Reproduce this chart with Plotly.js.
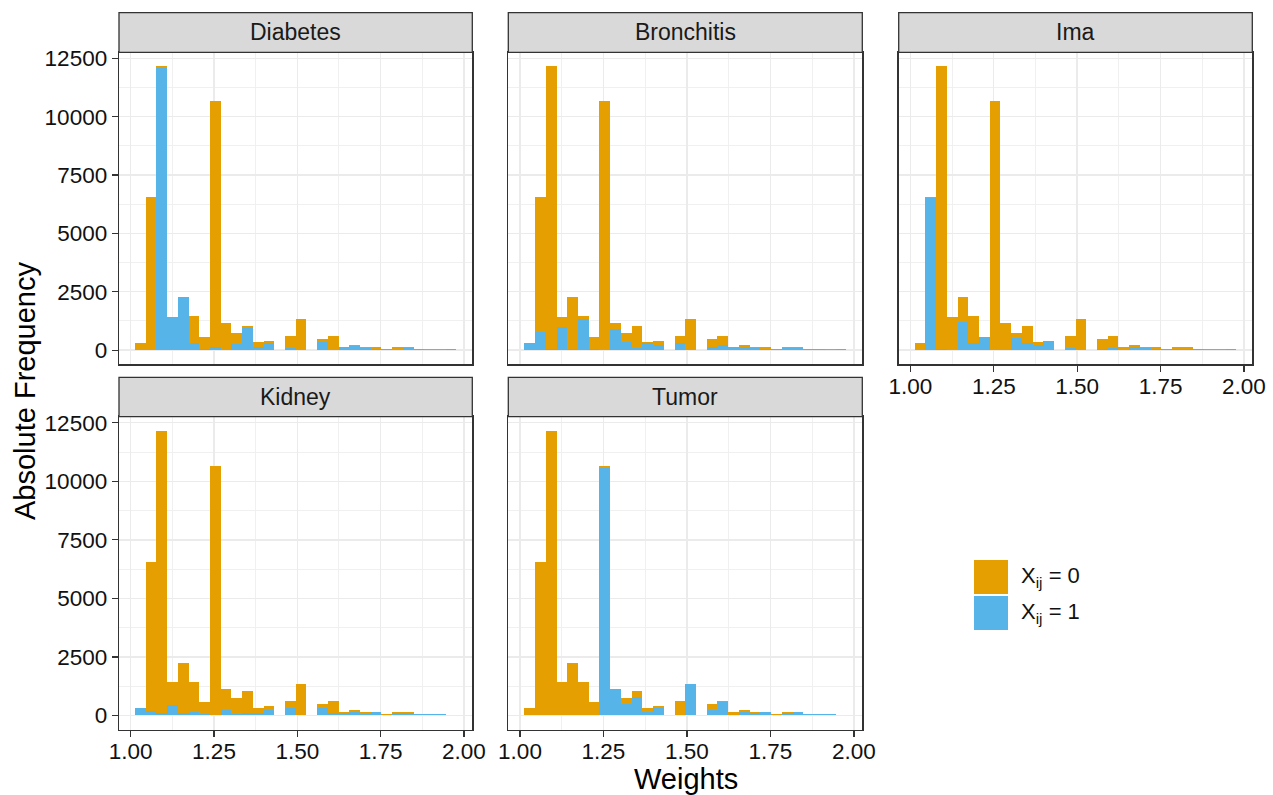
<!DOCTYPE html>
<html><head><meta charset="utf-8">
<script src="https://cdn.plot.ly/plotly-3.0.1.min.js"></script>
<style>html,body{margin:0;padding:0;background:#fff;}#chart{width:1273px;height:795px;}</style>
</head><body><div id="chart"></div>
<script>
// ---- data ----
const binCenters = [1.0290,1.0611,1.0933,1.1254,1.1576,1.1897,1.2218,1.2540,1.2861,1.3183,
                    1.3504,1.3825,1.4147,1.4468,1.4790,1.5111,1.5432,1.5754,1.6075,1.6397,
                    1.6718,1.7039,1.7361,1.7682,1.8004,1.8325,1.8646,1.8968,1.9289,1.9611];
const binWidth = 0.03214;
const totalCounts = [320,6540,12150,1410,2260,1450,555,10650,1150,730,
                     1025,340,385,0,600,1325,0,470,600,130,
                     215,130,130,60,130,130,45,45,45,30];
const diabetesX1   = [0,0,12090,1410,2260,300,60,140,0,255,
                      940,140,310,0,85,0,0,340,0,130,
                      170,85,40,60,0,85,45,0,0,30];
const bronchitisX1 = [300,770,55,1000,55,1325,55,0,900,340,
                      85,310,230,0,310,0,0,140,230,130,
                      140,85,30,60,85,85,45,45,20,30];
const imaX1        = [0,6500,55,0,1200,300,555,0,0,510,
                      300,230,385,0,85,0,0,55,85,0,
                      140,85,55,60,40,55,45,20,0,30];
const kidneyX1     = [320,185,85,430,85,140,55,0,255,55,
                      85,85,230,0,340,0,0,310,85,85,
                      140,55,130,30,85,85,45,45,45,30];
const tumorX1      = [0,0,0,0,0,0,0,10560,1150,510,
                      810,170,310,0,0,1325,0,230,570,0,
                      140,85,130,30,85,130,45,45,45,30];
const panelNames = ['Diabetes','Bronchitis','Ima','Kidney','Tumor'];
const legendLabels = ['X<sub>ij</sub> = 0','X<sub>ij</sub> = 1'];
const xTickVals = [1, 1.25, 1.5, 1.75, 2];
const xTickText = ['1.00','1.25','1.50','1.75','2.00'];
const yTickVals = [0, 2500, 5000, 7500, 10000, 12500];
const yTickText = ['0','2500','5000','7500','10000','12500'];

// ---- layout helpers ----
const W = 1273, H = 795;
const px = v => v / W;
const py = v => 1 - v / H;
const C0 = '#E69F00', C1 = '#56B4E9';
const FONT = 'Liberation Sans, Arial, Helvetica, sans-serif';
const TICK = 22.5, STRIP = 23, TITLE = 29, LEG = 22;
const blues = [diabetesX1, bronchitisX1, imaX1, kidneyX1, tumorX1];
const panelPos = [
  {x:[119,472.3], y:[52.3,364.3], strip:[12.7,52.3], showX:false, showY:true},
  {x:[508.3,862.3], y:[52.3,364.3], strip:[12.7,52.3], showX:false, showY:false},
  {x:[898.7,1252.3], y:[52.3,364.3], strip:[12.7,52.3], showX:true, showY:false},
  {x:[119,472.3], y:[416.7,729.7], strip:[377.3,416.7], showX:true, showY:true},
  {x:[508.3,862.3], y:[416.7,729.7], strip:[377.3,416.7], showX:true, showY:false}
];

const traces = [];
const layout = {
  width: W, height: H,
  margin: {l:0, r:0, t:0, b:0},
  paper_bgcolor: '#fff', plot_bgcolor: '#fff',
  barmode: 'stack', bargap: 0,
  showlegend: false,
  font: {family: FONT, color: '#1a1a1a'},
  shapes: [], annotations: []
};

panelNames.forEach((name, i) => {
  const k = i + 1;
  const xa = k === 1 ? 'x' : 'x' + k;
  const ya = k === 1 ? 'y' : 'y' + k;
  const blue = blues[i];
  const orange = totalCounts.map((t, j) => t - blue[j]);
  traces.push({type:'bar', x: binCenters, y: blue, width: binWidth, xaxis: xa, yaxis: ya,
               marker:{color:C1, line:{width:0}}, hoverinfo:'skip'});
  traces.push({type:'bar', x: binCenters, y: orange, width: binWidth, xaxis: xa, yaxis: ya,
               marker:{color:C0, line:{width:0}}, hoverinfo:'skip'});
  const p = panelPos[i];
  layout['xaxis' + (k === 1 ? '' : k)] = {
    domain: [px(p.x[0]), px(p.x[1])], anchor: ya, range: [0.965, 2.025],
    tickmode: 'array', tickvals: xTickVals, ticktext: xTickText,
    showticklabels: p.showX, ticks: p.showX ? 'outside' : '', ticklen: 6, tickwidth: 1.2, tickcolor: '#333333',
    ticklabelstandoff: -5,
    tickfont: {family: FONT, size: TICK, color: '#111'},
    showgrid: true, gridcolor: '#EBEBEB', gridwidth: 1.4,
    minor: {tickvals: [1.125, 1.375, 1.625, 1.875], showgrid: true, gridcolor: '#EEEEEE', gridwidth: 0.9, ticks: ''},
    showline: true, mirror: true, linecolor: '#333333', linewidth: 1.3,
    zeroline: false, fixedrange: true, automargin: false
  };
  layout['yaxis' + (k === 1 ? '' : k)] = {
    domain: [py(p.y[1]), py(p.y[0])], anchor: xa, range: [-607, 12757],
    tickmode: 'array', tickvals: yTickVals, ticktext: yTickText,
    showticklabels: p.showY, ticks: p.showY ? 'outside' : '', ticklen: 6, tickwidth: 1.2, tickcolor: '#333333',
    ticklabelstandoff: 0,
    tickfont: {family: FONT, size: TICK, color: '#111'},
    showgrid: true, gridcolor: '#EBEBEB', gridwidth: 1.4,
    minor: {tickvals: [1250, 3750, 6250, 8750, 11250], showgrid: true, gridcolor: '#EEEEEE', gridwidth: 0.9, ticks: ''},
    showline: true, mirror: true, linecolor: '#333333', linewidth: 1.3,
    zeroline: false, fixedrange: true, automargin: false
  };
  // strip
  layout.shapes.push({type:'rect', xref:'paper', yref:'paper',
    x0: px(p.x[0]), x1: px(p.x[1]), y0: py(p.strip[1]), y1: py(p.strip[0]),
    fillcolor:'#D9D9D9', line:{color:'#333333', width:1.3}, layer:'above'});
  layout.annotations.push({xref:'paper', yref:'paper', x: px((p.x[0]+p.x[1])/2), y: py((p.strip[0]+p.strip[1])/2),
    text: name, showarrow:false, xanchor:'center', yanchor:'middle',
    font:{family: FONT, size: STRIP, color:'#1a1a1a'}});
});

// axis titles
layout.annotations.push({xref:'paper', yref:'paper', x: px(685.5), y: py(779), text:'Weights', showarrow:false,
  xanchor:'center', yanchor:'middle', font:{family: FONT, size: TITLE, color:'#000'}});
layout.annotations.push({xref:'paper', yref:'paper', x: px(25), y: py(391), text:'Absolute Frequency', showarrow:false,
  textangle:-90, xanchor:'center', yanchor:'middle', font:{family: FONT, size: TITLE, color:'#000'}});

// legend
[[C0, 560, 594, 577], [C1, 596, 630, 613]].forEach((r, j) => {
  layout.shapes.push({type:'rect', xref:'paper', yref:'paper', x0: px(974), x1: px(1008), y0: py(r[2]), y1: py(r[1]),
    fillcolor: r[0], line:{width:0}});
  layout.annotations.push({xref:'paper', yref:'paper', x: px(1019), y: py(r[3]), text: legendLabels[j], showarrow:false,
    xanchor:'left', yanchor:'middle', font:{family: FONT, size: LEG, color:'#111'}});
});

Plotly.newPlot('chart', traces, layout, {staticPlot: true, displayModeBar: false});
</script>
</body></html>
